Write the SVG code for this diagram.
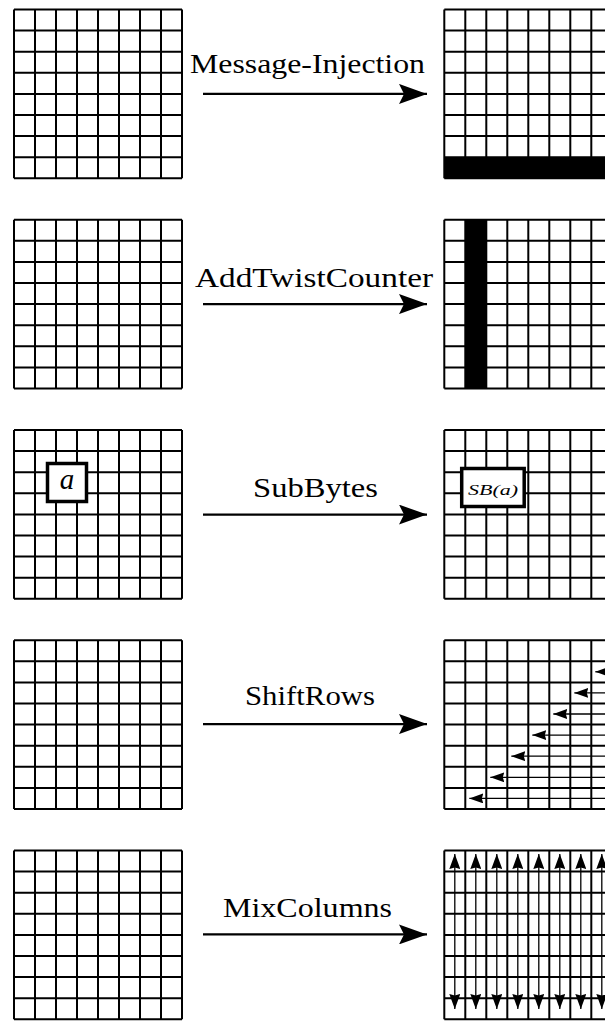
<svg xmlns="http://www.w3.org/2000/svg" width="605" height="1021" viewBox="0 0 605 1021">
<style>
.grid{fill:none;stroke:#000;stroke-width:2}
.lbl{font-size:27px;fill:#000;text-anchor:middle}
.math{font-style:italic;fill:#000;text-anchor:middle}
.main{stroke:#000;stroke-width:2.3;fill:none}
.thin{stroke:#000;stroke-width:1.3;fill:none}
.box{fill:#fff;stroke:#000;stroke-width:3.5}
</style>
<defs>
<path id="grid8" class="grid" d="M0 0V168.8M21 0V168.8M42 0V168.8M63 0V168.8M84 0V168.8M105 0V168.8M126 0V168.8M147 0V168.8M168 0V168.8M0 0H168M0 21.1H168M0 42.2H168M0 63.3H168M0 84.4H168M0 105.5H168M0 126.6H168M0 147.7H168M0 168.8H168"/>
<marker id="big" viewBox="0 0 28 20" refX="28" refY="10" markerWidth="28" markerHeight="20" markerUnits="userSpaceOnUse" orient="auto">
<path d="M0,0 L28,10 L0,20 L5,10 Z" fill="#000"/>
</marker>
<marker id="small" viewBox="0 0 14 10" refX="14" refY="5" markerWidth="14" markerHeight="10" markerUnits="userSpaceOnUse" orient="auto-start-reverse">
<path d="M0,0 L14,5 L0,10 L1.5,5 Z" fill="#000"/>
</marker>
<marker id="col" viewBox="0 0 15 11" refX="15" refY="5.5" markerWidth="15" markerHeight="11" markerUnits="userSpaceOnUse" orient="auto-start-reverse">
<path d="M0,0 L15,5.5 L0,11 L1.5,5.5 Z" fill="#000"/>
</marker>
</defs>
<rect width="605" height="1021" fill="#fff"/>

<!-- Row 1: Message-Injection -->
<g id="mi-in"><use href="#grid8" x="14" y="9.5"/></g>
<g id="mi-out">
<rect x="444.3" y="157.2" width="168" height="21.1" fill="#000"/>
<use href="#grid8" x="444.3" y="9.5"/>
</g>

<!-- Row 2: AddTwistCounter -->
<g id="atc-in"><use href="#grid8" x="14" y="219.7"/></g>
<g id="atc-out">
<rect x="465.3" y="219.7" width="21" height="168.8" fill="#000"/>
<use href="#grid8" x="444.3" y="219.7"/>
</g>

<!-- Row 3: SubBytes -->
<g id="sb-in">
<use href="#grid8" x="14" y="430"/>
<rect class="box" x="47.5" y="463.5" width="39" height="38"/>
<text class="math" x="67" y="489" font-size="29" font-family="'Liberation Serif', 'Times New Roman', serif">a</text>
</g>
<g id="sb-out">
<use href="#grid8" x="444.3" y="430"/>
<rect class="box" x="461.7" y="468.5" width="62.5" height="38"/>
<text class="math" x="493" y="495" font-size="14" font-family="'Liberation Serif', 'Times New Roman', serif" textLength="50" lengthAdjust="spacingAndGlyphs">SB(a)</text>
</g>

<!-- Row 4: ShiftRows -->
<g id="sr-in"><use href="#grid8" x="14" y="640.2"/></g>
<g id="sr-out">
<use href="#grid8" x="444.3" y="640.2"/>
<g class="thin">
<line x1="620" y1="671.8" x2="595.3" y2="671.8" marker-end="url(#small)"/>
<line x1="620" y1="692.9" x2="574.3" y2="692.9" marker-end="url(#small)"/>
<line x1="620" y1="714.0" x2="553.3" y2="714.0" marker-end="url(#small)"/>
<line x1="620" y1="735.1" x2="532.3" y2="735.1" marker-end="url(#small)"/>
<line x1="620" y1="756.2" x2="511.3" y2="756.2" marker-end="url(#small)"/>
<line x1="620" y1="777.3" x2="490.3" y2="777.3" marker-end="url(#small)"/>
<line x1="620" y1="798.4" x2="469.3" y2="798.4" marker-end="url(#small)"/>
</g>
</g>

<!-- Row 5: MixColumns -->
<g id="mc-in"><use href="#grid8" x="14" y="850.5"/></g>
<g id="mc-out">
<use href="#grid8" x="444.3" y="850.5"/>
<g class="thin">
<line x1="454.8" y1="854" x2="454.8" y2="1009" marker-start="url(#col)" marker-end="url(#col)"/>
<line x1="475.8" y1="854" x2="475.8" y2="1009" marker-start="url(#col)" marker-end="url(#col)"/>
<line x1="496.8" y1="854" x2="496.8" y2="1009" marker-start="url(#col)" marker-end="url(#col)"/>
<line x1="517.8" y1="854" x2="517.8" y2="1009" marker-start="url(#col)" marker-end="url(#col)"/>
<line x1="538.8" y1="854" x2="538.8" y2="1009" marker-start="url(#col)" marker-end="url(#col)"/>
<line x1="559.8" y1="854" x2="559.8" y2="1009" marker-start="url(#col)" marker-end="url(#col)"/>
<line x1="580.8" y1="854" x2="580.8" y2="1009" marker-start="url(#col)" marker-end="url(#col)"/>
<line x1="601.8" y1="854" x2="601.8" y2="1009" marker-start="url(#col)" marker-end="url(#col)"/>
</g>
</g>

<!-- Connectors -->
<g id="connectors">
<line class="main" x1="203" y1="93.9" x2="427" y2="93.9" marker-end="url(#big)"/>
<text class="lbl" font-family="'Liberation Serif', 'Times New Roman', serif" x="307.5" y="73" textLength="235" lengthAdjust="spacingAndGlyphs">Message-Injection</text>
<line class="main" x1="203" y1="304.1" x2="427" y2="304.1" marker-end="url(#big)"/>
<text class="lbl" font-family="'Liberation Serif', 'Times New Roman', serif" x="314" y="286.7" textLength="238" lengthAdjust="spacingAndGlyphs">AddTwistCounter</text>
<line class="main" x1="203" y1="514.6" x2="427" y2="514.6" marker-end="url(#big)"/>
<text class="lbl" font-family="'Liberation Serif', 'Times New Roman', serif" x="315.5" y="496.7" textLength="125" lengthAdjust="spacingAndGlyphs">SubBytes</text>
<line class="main" x1="203" y1="724.1" x2="427" y2="724.1" marker-end="url(#big)"/>
<text class="lbl" font-family="'Liberation Serif', 'Times New Roman', serif" x="310" y="705" textLength="130" lengthAdjust="spacingAndGlyphs">ShiftRows</text>
<line class="main" x1="203" y1="934.4" x2="427" y2="934.4" marker-end="url(#big)"/>
<text class="lbl" font-family="'Liberation Serif', 'Times New Roman', serif" x="307.5" y="916.7" textLength="169" lengthAdjust="spacingAndGlyphs">MixColumns</text>
</g>
</svg>
